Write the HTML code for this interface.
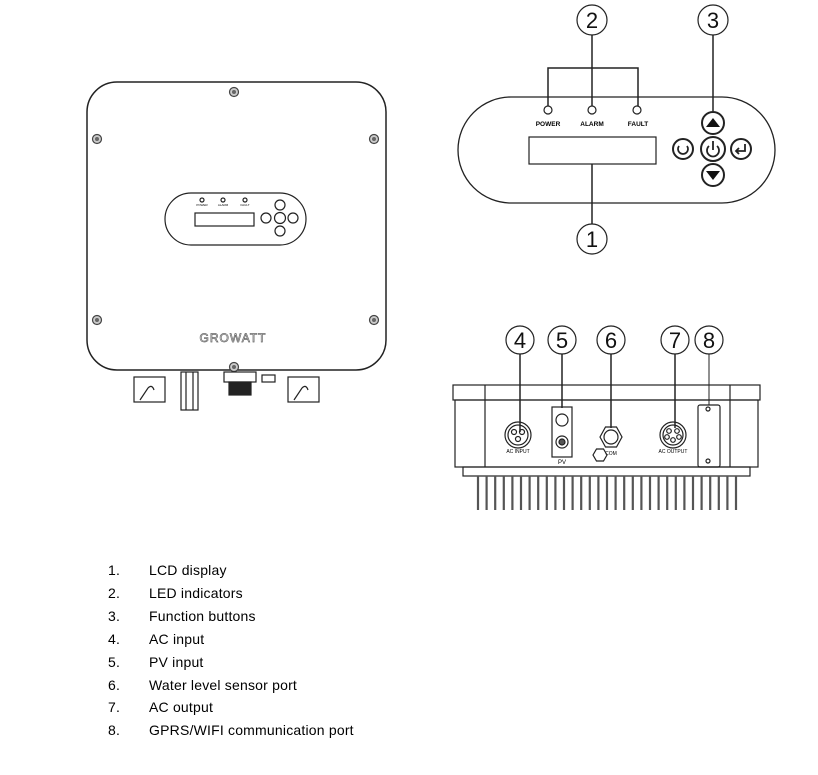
<!DOCTYPE html>
<html><head><meta charset="utf-8"><style>
body{margin:0;background:#fff;}
svg{display:block;}
text{font-family:"Liberation Sans",sans-serif;}
</style></head><body>
<svg width="818" height="775" viewBox="0 0 818 775" xmlns="http://www.w3.org/2000/svg" fill="none" stroke="#222" stroke-width="1.2">
<!-- Left device -->
<rect x="87" y="82" width="299" height="288" rx="30" stroke-width="1.5"/>
<g fill="#ccc" stroke="#444">
<circle cx="234" cy="92" r="4.5"/><circle cx="97" cy="139" r="4.5"/><circle cx="374" cy="139" r="4.5"/>
<circle cx="97" cy="320" r="4.5"/><circle cx="374" cy="320" r="4.5"/><circle cx="234" cy="367" r="4.5"/>
</g>
<g fill="#666" stroke="none"><circle cx="234" cy="92" r="2"/><circle cx="97" cy="139" r="2"/><circle cx="374" cy="139" r="2"/><circle cx="97" cy="320" r="2"/><circle cx="374" cy="320" r="2"/><circle cx="234" cy="367" r="2"/></g>
<rect x="165" y="193" width="141" height="52" rx="26"/>
<rect x="195" y="213" width="59" height="13"/>
<circle cx="202" cy="200" r="2"/><circle cx="223" cy="200" r="2"/><circle cx="245" cy="200" r="2"/>
<text x="202" y="206" font-size="3" fill="#000" stroke="none" text-anchor="middle">POWER</text>
<text x="223" y="206" font-size="3" fill="#000" stroke="none" text-anchor="middle">ALARM</text>
<text x="245" y="206" font-size="3" fill="#000" stroke="none" text-anchor="middle">FAULT</text>
<circle cx="280" cy="205" r="5"/><circle cx="280" cy="218" r="5.5"/><circle cx="280" cy="231" r="5"/>
<circle cx="266" cy="218" r="5"/><circle cx="293" cy="218" r="5"/>
<text x="233" y="342" font-size="12" fill="#fff" stroke="#666" stroke-width="0.7" text-anchor="middle" letter-spacing="1">GROWATT</text>
<!-- bottom brackets -->
<rect x="134" y="377" width="31" height="25"/><path d="M140 400 L148 388 Q152 384 154 390"/>
<rect x="288" y="377" width="31" height="25"/><path d="M294 400 L302 388 Q306 384 308 390"/>
<rect x="181" y="372" width="17" height="38"/><line x1="186" y1="372" x2="186" y2="410"/><line x1="193" y1="372" x2="193" y2="410"/>
<rect x="224" y="372" width="32" height="10"/>
<rect x="229" y="382" width="22" height="13" fill="#222"/>
<rect x="262" y="375" width="13" height="7"/>
<!-- Right top panel -->
<rect x="458" y="97" width="317" height="106" rx="53" stroke-width="1.3"/>
<rect x="529" y="137" width="127" height="27"/>
<circle cx="548" cy="110" r="4"/><circle cx="592" cy="110" r="4"/><circle cx="637" cy="110" r="4"/>
<g fill="#000" stroke="none" font-size="6.5" font-weight="bold" text-anchor="middle">
<text x="548" y="126">POWER</text><text x="592" y="126">ALARM</text><text x="638" y="126">FAULT</text></g>
<path d="M548 106 V68 H638 V106" stroke-width="1.5"/>
<line x1="592" y1="35" x2="592" y2="106" stroke-width="1.5"/>
<line x1="713" y1="35" x2="713" y2="111" stroke-width="1.5"/>
<line x1="592" y1="164" x2="592" y2="224" stroke-width="1.5"/>
<g stroke-width="2">
<circle cx="713" cy="123" r="11"/><circle cx="713" cy="149" r="12"/><circle cx="713" cy="175" r="11"/>
<circle cx="683" cy="149" r="10"/><circle cx="741" cy="149" r="10"/>
</g>
<path d="M706 127 L713 118 L720 127 Z" fill="#111" stroke="none"/>
<path d="M706 171 L713 180 L720 171 Z" fill="#111" stroke="none"/>
<path d="M709 146 A6 6 0 1 0 717 146" stroke-width="1.8"/><line x1="713" y1="141" x2="713" y2="150" stroke-width="1.8"/>
<path d="M679 146 A5 5 0 1 0 687 146" stroke-width="1.8"/>
<path d="M745 144 V151 H736 M739 148 L736 151 L739 154" stroke-width="1.8"/>
<!-- callout circles -->
<g stroke-width="1.2">
<circle cx="592" cy="20" r="15"/><circle cx="713" cy="20" r="15"/><circle cx="592" cy="239" r="15"/>
<circle cx="520" cy="340" r="14"/><circle cx="562" cy="340" r="14"/><circle cx="611" cy="340" r="14"/><circle cx="675" cy="340" r="14"/><circle cx="709" cy="340" r="14"/>
</g>
<g fill="#111" stroke="none" font-size="22" text-anchor="middle">
<text x="592" y="28">2</text><text x="713" y="28">3</text><text x="592" y="247">1</text>
<text x="520" y="348">4</text><text x="562" y="348">5</text><text x="611" y="348">6</text><text x="675" y="348">7</text><text x="709" y="348">8</text>
</g>
<!-- bottom view -->
<rect x="453" y="385" width="307" height="15"/>
<rect x="455" y="400" width="303" height="67"/>
<line x1="485" y1="385" x2="485" y2="467"/><line x1="730" y1="385" x2="730" y2="467"/>
<rect x="463" y="467" width="287" height="9"/>
<g stroke-width="2.2" stroke="#555">
<path d="M478 476 V510 M486.6 476 V510 M495.2 476 V510 M503.8 476 V510 M512.4 476 V510 M521 476 V510 M529.6 476 V510 M538.2 476 V510 M546.8 476 V510 M555.4 476 V510 M564 476 V510 M572.6 476 V510 M581.2 476 V510 M589.8 476 V510 M598.4 476 V510 M607 476 V510 M615.6 476 V510 M624.2 476 V510 M632.8 476 V510 M641.4 476 V510 M650 476 V510 M658.6 476 V510 M667.2 476 V510 M675.8 476 V510 M684.4 476 V510 M693 476 V510 M701.6 476 V510 M710.2 476 V510 M718.8 476 V510 M727.4 476 V510 M736 476 V510"/>
</g>
<line x1="520" y1="354" x2="520" y2="432" stroke-width="1.5"/>
<line x1="562" y1="354" x2="562" y2="408" stroke-width="1.5"/>
<line x1="611" y1="354" x2="611" y2="428" stroke-width="1.5"/>
<line x1="675" y1="354" x2="675" y2="428" stroke-width="1.5"/>
<line x1="709" y1="354" x2="709" y2="405" stroke-width="1"/>
<circle cx="518" cy="435" r="13"/><circle cx="518" cy="435" r="10"/>
<circle cx="514" cy="432" r="2.5"/><circle cx="522" cy="432" r="2.5"/><circle cx="518" cy="439" r="2.5"/>
<text x="518" y="453" font-size="5" fill="#000" stroke="none" text-anchor="middle">AC INPUT</text>
<rect x="552" y="407" width="20" height="50"/>
<circle cx="562" cy="420" r="6"/><circle cx="562" cy="442" r="6"/><circle cx="562" cy="442" r="3" fill="#555"/>
<text x="562" y="464" font-size="6" fill="#000" stroke="none" text-anchor="middle">PV</text>
<polygon points="600,437 605.5,427 616.5,427 622,437 616.5,447 605.5,447"/><circle cx="611" cy="437" r="7"/>
<text x="611" y="455" font-size="5" fill="#000" stroke="none" text-anchor="middle">COM</text>
<polygon points="593,455 596.5,449 603.5,449 607,455 603.5,461 596.5,461"/>
<circle cx="673" cy="435" r="13"/><circle cx="673" cy="435" r="10"/>
<circle cx="669" cy="431" r="2.3"/><circle cx="677" cy="431" r="2.3"/><circle cx="667" cy="437" r="2.3"/><circle cx="679" cy="437" r="2.3"/><circle cx="673" cy="440" r="2.3"/>
<text x="673" y="453" font-size="5" fill="#000" stroke="none" text-anchor="middle">AC OUTPUT</text>
<rect x="698" y="405" width="22" height="62" rx="2"/>
<circle cx="708" cy="409" r="2"/><circle cx="708" cy="461" r="2"/>
<!-- list -->
<g fill="#000" stroke="none" font-size="14" letter-spacing="0.2">
<text x="108" y="575">1.</text><text x="149" y="575">LCD display</text>
<text x="108" y="598">2.</text><text x="149" y="598">LED indicators</text>
<text x="108" y="621">3.</text><text x="149" y="621">Function buttons</text>
<text x="108" y="644">4.</text><text x="149" y="644">AC input</text>
<text x="108" y="667">5.</text><text x="149" y="667">PV input</text>
<text x="108" y="690">6.</text><text x="149" y="690">Water level sensor port</text>
<text x="108" y="712">7.</text><text x="149" y="712">AC output</text>
<text x="108" y="735">8.</text><text x="149" y="735">GPRS/WIFI communication port</text>
</g>
</svg>
</body></html>
